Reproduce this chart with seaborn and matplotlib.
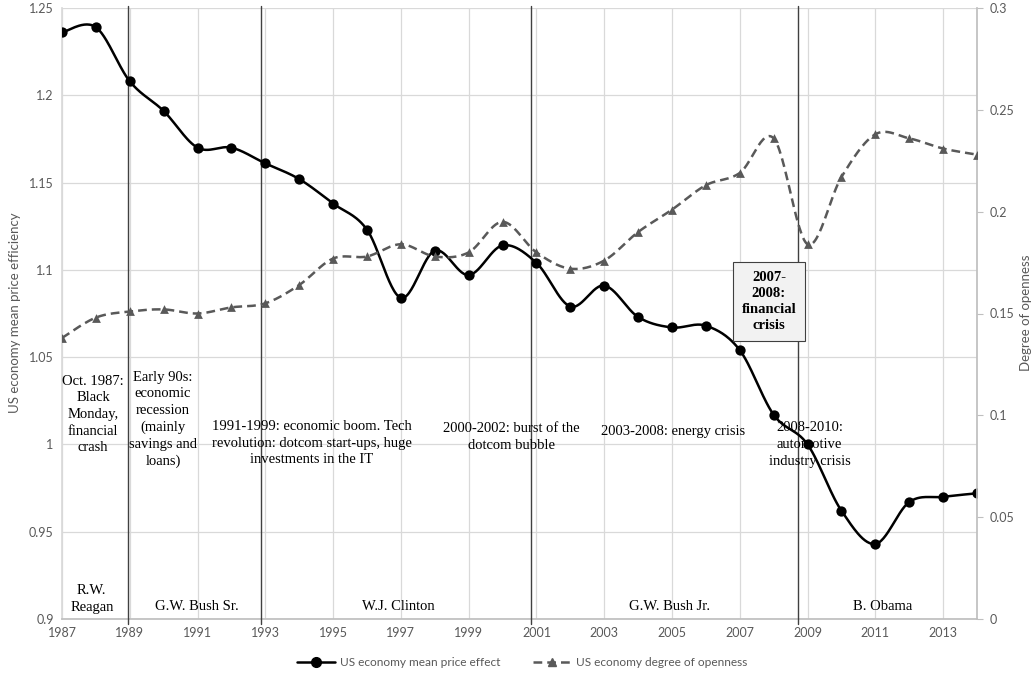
import numpy as np
import pandas as pd
import matplotlib
matplotlib.use("Agg")
import matplotlib.pyplot as plt
from matplotlib.lines import Line2D
import seaborn as sns

# ---- data -------------------------------------------------------------
years = list(range(1987, 2015))
price_effect = [1.236, 1.239, 1.208, 1.191, 1.170, 1.170, 1.161, 1.152,
                1.138, 1.123, 1.084, 1.111, 1.097, 1.114, 1.104, 1.079,
                1.091, 1.073, 1.067, 1.068, 1.054, 1.017, 1.000, 0.962,
                0.943, 0.967, 0.970, 0.972]
openness = [0.138, 0.148, 0.151, 0.152, 0.150, 0.153, 0.155, 0.164,
            0.177, 0.178, 0.184, 0.178, 0.180, 0.195, 0.180, 0.172,
            0.176, 0.190, 0.201, 0.213, 0.219, 0.236, 0.184, 0.217,
            0.238, 0.236, 0.231, 0.228]
event_years = [1988.94, 1992.87, 2000.83, 2008.73]
left_ticks = [0.9, 0.95, 1.0, 1.05, 1.1, 1.15, 1.2, 1.25]
left_labels = ["0.9", "0.95", "1", "1.05", "1.1", "1.15", "1.2", "1.25"]
right_ticks = [0, 0.05, 0.1, 0.15, 0.2, 0.25, 0.3]
right_labels = ["0", "0.05", "0.1", "0.15", "0.2", "0.25", "0.3"]
x_ticks = list(range(1987, 2015, 2))


def smooth(x, y, n=30):
    """Bezier smoothing through every point (Catmull-Rom style)."""
    x = np.asarray(x, float)
    y = np.asarray(y, float)
    px = np.concatenate([[x[0]], x, [x[-1]]])
    py = np.concatenate([[y[0]], y, [y[-1]]])
    xs, ys = [], []
    t = np.linspace(0, 1, n)
    for i in range(1, len(px) - 2):
        p0 = np.array([px[i], py[i]])
        p3 = np.array([px[i + 1], py[i + 1]])
        c1 = p0 + (np.array([px[i + 1], py[i + 1]]) - np.array([px[i - 1], py[i - 1]])) / 6
        c2 = p3 - (np.array([px[i + 2], py[i + 2]]) - np.array([px[i], py[i]])) / 6
        b = ((1 - t) ** 3)[:, None] * p0 + (3 * (1 - t) ** 2 * t)[:, None] * c1 \
            + (3 * (1 - t) * t ** 2)[:, None] * c2 + (t ** 3)[:, None] * p3
        xs.append(b[:, 0])
        ys.append(b[:, 1])
    return np.concatenate(xs), np.concatenate(ys)


sns.set_theme(style="white")
plt.rcParams["font.family"] = ["Lato", "DejaVu Sans"]

GRAY_TXT = "#595959"
GRID = "#d9d9d9"
OPEN_COL = "#595959"

fig = plt.figure(figsize=(10.33, 6.74), dpi=100)
ax = fig.add_axes([62 / 1033, 1 - 619 / 674, (977 - 62) / 1033, (619 - 8) / 674])
ax2 = ax.twinx()

df = pd.DataFrame({"year": years, "price": price_effect, "open": openness})

# mean price effect: smoothed solid line + round markers
sx, sy = smooth(years, price_effect)
sns.lineplot(x=sx, y=sy, ax=ax, color="black", lw=1.8, sort=False, zorder=5)
sns.scatterplot(data=df, x="year", y="price", ax=ax, color="black", s=55,
                marker="o", edgecolor="black", linewidth=0, zorder=6)

# degree of openness: smoothed dashed line + triangle markers
ox, oy = smooth(years, openness)
sns.lineplot(x=ox, y=oy, ax=ax2, color=OPEN_COL, lw=1.8, sort=False,
             linestyle=(0, (3.5, 2)), zorder=5)
sns.scatterplot(data=df, x="year", y="open", ax=ax2, color=OPEN_COL, s=40,
                marker="^", edgecolor=OPEN_COL, linewidth=0, zorder=6)

ax.set_xlim(1987, 2014)
ax.set_ylim(0.9, 1.25)
ax2.set_ylim(0, 0.3)
ax.set_xticks(x_ticks)
ax.set_xticklabels([str(v) for v in x_ticks])
ax.set_yticks(left_ticks)
ax.set_yticklabels(left_labels)
ax2.set_yticks(right_ticks)
ax2.set_yticklabels(right_labels)

ax.grid(True, color=GRID, lw=0.9)
ax2.grid(False)
ax.set_axisbelow(True)
ax.tick_params(axis="both", length=0, labelsize=9, colors=GRAY_TXT, pad=6)
ax2.tick_params(axis="y", length=4, width=0.8, color="#bfbfbf", direction="out",
                labelsize=9, colors=GRAY_TXT, pad=5)
for a in (ax, ax2):
    for s in a.spines.values():
        s.set_visible(False)
ax.spines["bottom"].set_visible(True)
ax.spines["bottom"].set_color("#bfbfbf")
ax.spines["left"].set_visible(True)
ax.spines["left"].set_color(GRID)
ax2.spines["right"].set_visible(True)
ax2.spines["right"].set_color("#bfbfbf")

ax.set_xlabel("")
ax.set_ylabel("")
ax2.set_ylabel("")
fig.text(15 / 1033, 1 - 313 / 674, "US economy mean price efficiency", rotation=90,
         ha="center", va="center", fontsize=9.5, color=GRAY_TXT)
fig.text(1026 / 1033, 1 - 313 / 674, "Degree of openness", rotation=90,
         ha="center", va="center", fontsize=9.5, color=GRAY_TXT)

# period boundaries
for ey in event_years:
    ax.axvline(ey, ymin=-0.009, ymax=1.003, color="#404040", lw=1.0,
               clip_on=False, zorder=3)

serif = dict(family=["Liberation Serif", "DejaVu Serif"], fontsize=10.5,
             color="black", ha="center", va="center", linespacing=1.36, zorder=7)
ax.text(1987.92, 1.0172, "Oct. 1987:\nBlack\nMonday,\nfinancial\ncrash", **serif)
ax.text(1989.98, 1.0143, "Early 90s:\neconomic\nrecession\n(mainly\nsavings and\nloans)", **serif)
ax.text(1994.37, 1.0006, "1991-1999: economic boom. Tech\nrevolution: dotcom start-ups, huge\n"
        "investments in the IT", **serif)
ax.text(2000.25, 1.0043, "2000-2002: burst of the\ndotcom bubble", **serif)
ax.text(2005.02, 1.0074, "2003-2008: energy crisis", **serif)
ax.text(2009.06, 1.0000, "2008-2010:\nautomotive\nindustry crisis", **serif)
ax.text(1987.88, 0.9113, "R.W.\nReagan", **serif)
ax.text(1990.98, 0.9073, "G.W. Bush Sr.", **serif)
ax.text(1996.91, 0.9073, "W.J. Clinton", **serif)
ax.text(2004.94, 0.9073, "G.W. Bush Jr.", **serif)
ax.text(2011.22, 0.9073, "B. Obama", **serif)

box_style = dict(serif)
box_style["fontweight"] = "bold"
box_style["linespacing"] = 1.3
ax.text(2007.86, 1.0818, "2007-\n2008:\nfinancial\ncrisis",
        bbox=dict(boxstyle="square,pad=0.6", facecolor="#f2f2f2",
                  edgecolor="#404040", lw=0.8), **box_style)

# legend
handles = [
    Line2D([0], [0], color="black", lw=1.8, marker="o", markersize=7),
    Line2D([0], [0], color=OPEN_COL, lw=1.8, linestyle=(0, (3.5, 2)),
           marker="^", markersize=6),
]
fig.legend(handles, ["US economy mean price effect", "US economy degree of openness"],
           loc="center", bbox_to_anchor=(522 / 1033, 1 - 663 / 674), ncol=2, frameon=False,
           fontsize=8.6, handlelength=3.2, handletextpad=0.4, numpoints=1,
           columnspacing=2.7, labelcolor=GRAY_TXT)

fig.savefig("out.png", dpi=100)
